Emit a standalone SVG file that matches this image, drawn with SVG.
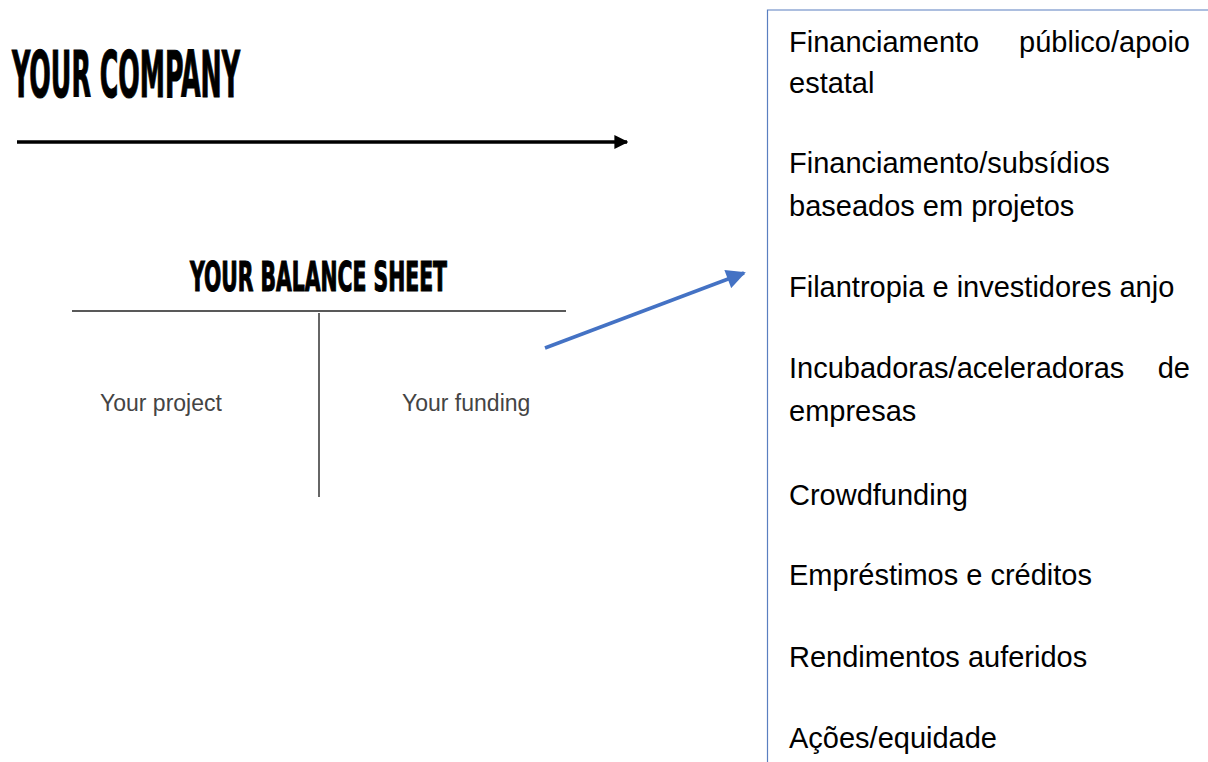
<svg xmlns="http://www.w3.org/2000/svg" width="1208" height="762" viewBox="0 0 1208 762">
<defs>
<style>
.title{font-family:"Liberation Sans Narrow","DejaVu Sans Condensed","Liberation Sans",sans-serif;font-weight:bold;fill:#000;stroke:#000;stroke-width:1.2}
.lbl{font-family:"Liberation Sans",Arial,sans-serif;font-size:23px;fill:#444}
.item{font-family:"Liberation Sans",Arial,sans-serif;font-size:29px;fill:#000}
</style>
<marker id="ahBlack" viewBox="0 0 10 10" refX="9" refY="5" markerWidth="4" markerHeight="4" orient="auto" markerUnits="strokeWidth">
<path d="M0,0 L10,5 L0,10 z" fill="#000"/>
</marker>
<marker id="ahBlue" viewBox="0 0 10 10" refX="9" refY="5" markerWidth="6" markerHeight="5.5" orient="auto" markerUnits="strokeWidth">
<path d="M0,0 L10,5 L0,10 z" fill="#4472c4"/>
</marker>
</defs>
<rect width="1208" height="762" fill="#fff"/>

<g id="company-title">
<text class="title" x="12" y="97" font-size="64" textLength="228" lengthAdjust="spacingAndGlyphs">YOUR COMPANY</text>
</g>

<g id="balance-sheet">
<text class="title" x="190" y="291" font-size="41" textLength="257" lengthAdjust="spacingAndGlyphs">YOUR BALANCE SHEET</text>
<line x1="72" y1="311" x2="566" y2="311" stroke="#222" stroke-width="1.5"/>
<line x1="319" y1="313" x2="319" y2="497" stroke="#666" stroke-width="2"/>
<text class="lbl" x="100" y="411">Your project</text>
<text class="lbl" x="402" y="411">Your funding</text>
</g>

<g id="funding-box">
<path d="M1210,10 L767.5,10 L767.5,764" fill="none" stroke="#5a7fc0" stroke-width="1.2"/>
<text class="item" x="789" y="52">Financiamento</text>
<text class="item" x="1190" y="52" text-anchor="end">público/apoio</text>
<text class="item" x="789" y="93">estatal</text>
<text class="item" x="789" y="173">Financiamento/subsídios</text>
<text class="item" x="789" y="216">baseados em projetos</text>
<text class="item" x="789" y="297">Filantropia e investidores anjo</text>
<text class="item" x="789" y="378">Incubadoras/aceleradoras</text>
<text class="item" x="1190" y="378" text-anchor="end">de</text>
<text class="item" x="789" y="421">empresas</text>
<text class="item" x="789" y="505">Crowdfunding</text>
<text class="item" x="789" y="585">Empréstimos e créditos</text>
<text class="item" x="789" y="667">Rendimentos auferidos</text>
<text class="item" x="789" y="748">Ações/equidade</text>
</g>

<g id="connectors">
<line x1="17" y1="142" x2="627" y2="142" stroke="#000" stroke-width="3.5" marker-end="url(#ahBlack)"/>
<line x1="545" y1="348" x2="744" y2="273" stroke="#4472c4" stroke-width="3.5" marker-end="url(#ahBlue)"/>
</g>
</svg>
